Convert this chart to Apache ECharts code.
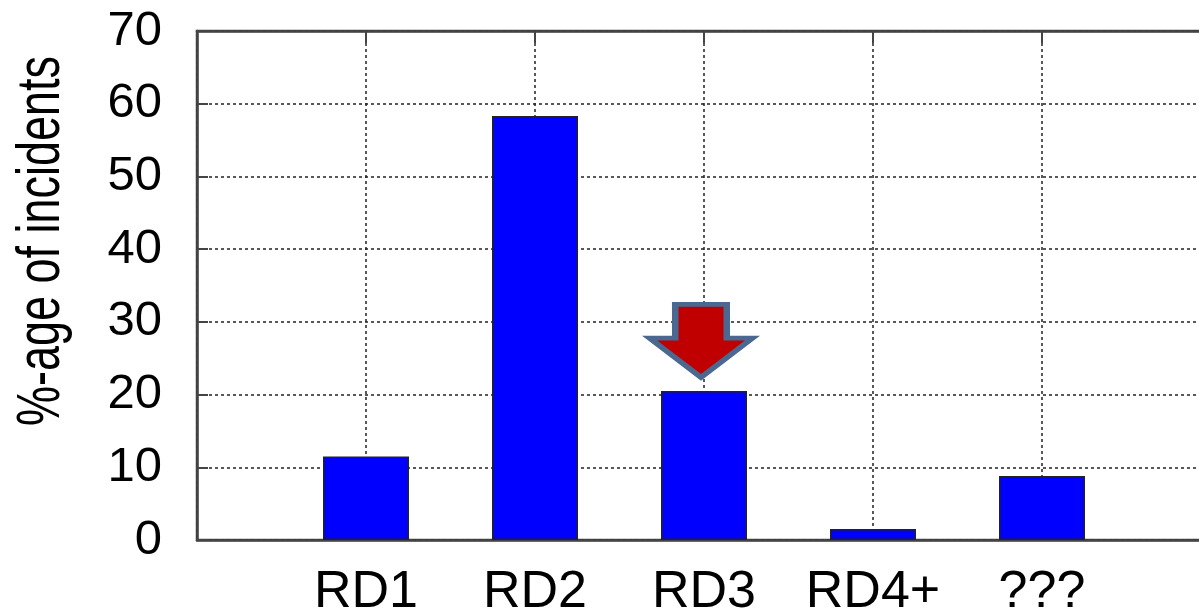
<!DOCTYPE html>
<html>
<head>
<meta charset="utf-8">
<script src="https://cdn.jsdelivr.net/npm/echarts@6/dist/echarts.min.js"></script>
<style>
html,body{margin:0;padding:0;background:#fff;}
#chart{width:1199px;height:614px;}
</style>
</head>
<body>
<div id="chart"></div>
<script>
var categories = ['RD1', 'RD2', 'RD3', 'RD4+', '???'];
var values = [11.5, 58.3, 20.5, 1.5, 8.8];
var yTicks = [0, 10, 20, 30, 40, 50, 60, 70];
var yTitle = '%-age of incidents';
var highlightIndex = 2;

var axisCats = [''].concat(categories).concat(['']);
var seriesData = [null].concat(values).concat([null]);

var chart = echarts.init(document.getElementById('chart'));
var FONT = "'Liberation Sans', Arial, sans-serif";
var gridLine = { show: true, lineStyle: { color: '#222', width: 1.5, type: [3, 3] } };

chart.setOption({
  backgroundColor: '#fff',
  animation: false,
  grid: { left: 197, top: 31, width: 1014, height: 509, outerBoundsMode: 'none', containLabel: false, show: true, borderColor: '#444', borderWidth: 2.5, backgroundColor: 'transparent' },
  xAxis: [{
    type: 'category', data: axisCats, boundaryGap: false, position: 'bottom',
    axisLine: { show: true, lineStyle: { color: '#444', width: 2.5 } },
    axisTick: { show: false },
    axisLabel: { color: '#000', fontSize: 52, fontFamily: FONT, margin: 27, interval: 0 },
    splitLine: gridLine
  }, {
    type: 'category', data: axisCats, boundaryGap: false, position: 'top',
    axisLine: { show: true, lineStyle: { color: '#444', width: 2.5 } },
    axisTick: { show: true, inside: true, length: 12, interval: 0, lineStyle: { color: '#444', width: 2 } },
    axisLabel: { show: false },
    splitLine: { show: false }
  }],
  yAxis: {
    type: 'value', min: yTicks[0], max: yTicks[yTicks.length - 1], interval: 10,
    axisLine: { show: true, lineStyle: { color: '#444', width: 2.5 } },
    axisTick: { show: true, inside: true, length: 11, lineStyle: { color: '#444', width: 2 } },
    axisLabel: { color: '#000', fontSize: 49, fontFamily: FONT, margin: 35 },
    splitLine: gridLine
  },
  graphic: [{
    type: 'text', x: 42, y: 241, rotation: Math.PI / 2, scaleY: 1.35,
    style: { text: yTitle, font: '45px ' + FONT, fill: '#000', textAlign: 'center', textVerticalAlign: 'middle' }
  }],
  series: [{
    type: 'bar', data: seriesData, barWidth: 86, xAxisIndex: 0,
    itemStyle: { color: '#0000FF', borderColor: '#222', borderWidth: 1.5 },
    markPoint: {
      silent: true,
      label: { show: false },
      data: [{
        coord: [highlightIndex + 1, values[highlightIndex]],
        symbol: 'path://M27,0 L81,0 L81,36 L108,36 L54,78 L0,36 L27,36 Z',
        symbolSize: [103, 73],
        symbolKeepAspect: false,
        symbolOffset: [-3, -50],
        itemStyle: { color: '#C00000', borderColor: '#4A6890', borderWidth: 5.5 }
      }]
    }
  }]
});
</script>
</body>
</html>
